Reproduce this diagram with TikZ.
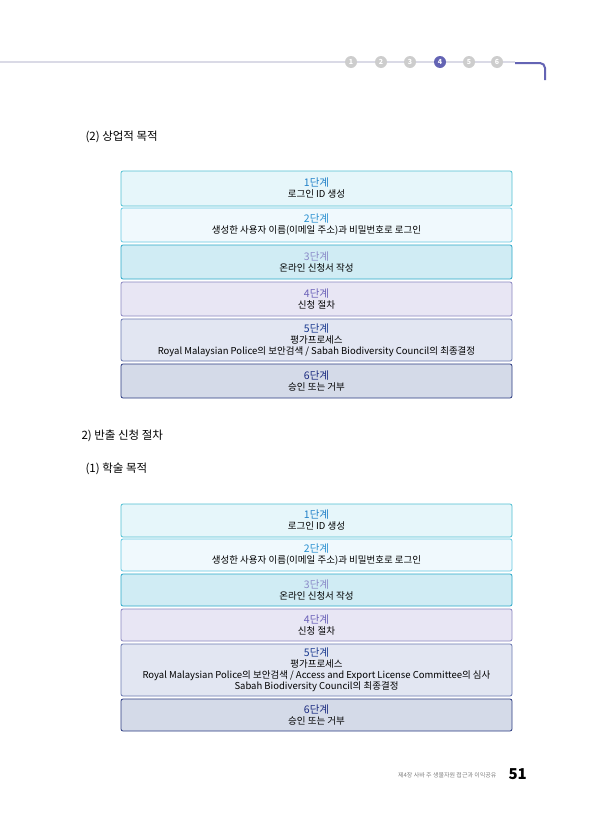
\documentclass[tikz,border=0pt]{standalone}
\usepackage{fontspec}
\setmainfont{Noto Sans CJK KR}
\usetikzlibrary{positioning}
\definecolor{lline}{RGB}{218,218,230}
\definecolor{dotgrey}{RGB}{205,205,205}
\definecolor{navy}{RGB}{100,100,180}
\definecolor{bdA}{RGB}{80,192,210}\definecolor{fA}{RGB}{230,246,250}\definecolor{tA}{RGB}{32,128,200}
\definecolor{bdB}{RGB}{100,200,225}\definecolor{fB}{RGB}{240,249,253}\definecolor{tB}{RGB}{42,144,208}
\definecolor{bdC}{RGB}{42,168,200}\definecolor{fC}{RGB}{208,236,244}\definecolor{tC}{RGB}{138,138,200}
\definecolor{bdD}{RGB}{138,134,192}\definecolor{fD}{RGB}{232,230,244}\definecolor{tD}{RGB}{106,96,184}
\definecolor{bdE}{RGB}{106,120,176}\definecolor{fE}{RGB}{226,230,242}\definecolor{tE}{RGB}{26,58,144}
\definecolor{bdF}{RGB}{42,58,128}\definecolor{fF}{RGB}{212,218,232}\definecolor{tF}{RGB}{26,42,128}
\newcommand{\stg}[2]{{\color{#1}\fontsize{10.5}{12}\selectfont #2}}

\begin{document}
\begin{tikzpicture}[x=1pt,y=-1pt,font=\fontsize{9.5}{11}\selectfont]
  \tikzset{stage/.style={draw=bd#1,fill=f#1,rounded corners=2pt,line width=0.8pt,
      minimum width=391pt,align=center,inner sep=1pt},
    title/.style={font=\fontsize{11.5}{13}\selectfont,anchor=west},
    dot/.style={circle,fill=dotgrey,text=white,inner sep=0pt,minimum size=12pt,
      font=\fontsize{7}{7}\selectfont\bfseries}}
  \useasboundingbox (0,0) rectangle (605,830);
  \fill[white] (0,0) rectangle (605,830);

  % header
  \draw[lline,line width=1.2pt] (0,62) -- (515,62);
  \foreach \i/\x in {1/351,2/381,3/410,5/469,6/497}
    \node[dot] (d\i) at (\x,62) {\i};
  \node[dot,fill=navy] (d4) at (440,62) {4};
  \draw[navy,line width=2pt,rounded corners=5pt] (515,63) -- (545,63) -- (545,80);

  \node[title] (h1) at (82,137) {(2) 상업적 목적};
  \node[title] (h2) at (78,436) {2) 반출 신청 절차};
  \node[title] (h3) at (82,469) {(1) 학술 목적};

  % commercial
  \node[stage=A,minimum height=35pt] (a1) at (316.5,188.5) {\stg{tA}{1단계}\\로그인 ID 생성};
  \node[stage=B,minimum height=34pt] (a2) at (316.5,225) {\stg{tB}{2단계}\\생성한 사용자 이름(이메일 주소)과 비밀번호로 로그인};
  \node[stage=C,minimum height=34pt] (a3) at (316.5,262) {\stg{tC}{3단계}\\온라인 신청서 작성};
  \node[stage=D,minimum height=34pt] (a4) at (316.5,299) {\stg{tD}{4단계}\\신청 절차};
  \node[stage=E,minimum height=42pt] (a5) at (316.5,340) {\stg{tE}{5단계}\\평가프로세스\\Royal Malaysian Police의 보안검색 / Sabah Biodiversity Council의 최종결정};
  \node[stage=F,minimum height=34pt] (a6) at (316.5,381) {\stg{tF}{6단계}\\승인 또는 거부};

  % academic
  \node[stage=A,minimum height=33pt] (b1) at (316.5,520.5) {\stg{tA}{1단계}\\로그인 ID 생성};
  \node[stage=B,minimum height=32pt] (b2) at (316.5,555) {\stg{tB}{2단계}\\생성한 사용자 이름(이메일 주소)과 비밀번호로 로그인};
  \node[stage=C,minimum height=32pt] (b3) at (316.5,590) {\stg{tC}{3단계}\\온라인 신청서 작성};
  \node[stage=D,minimum height=32pt] (b4) at (316.5,625) {\stg{tD}{4단계}\\신청 절차};
  \node[stage=E,minimum height=52pt] (b5) at (316.5,670) {\stg{tE}{5단계}\\평가프로세스\\Royal Malaysian Police의 보안검색 / Access and Export License Committee의 심사\\Sabah Biodiversity Council의 최종결정};
  \node[stage=F,minimum height=32pt] (b6) at (316.5,715) {\stg{tF}{6단계}\\승인 또는 거부};

  % footer
  \node[anchor=east,text=gray,font=\fontsize{6}{7}\selectfont] (ft) at (500,775) {제4장 사바 주 생물자원 접근과 이익공유};
  \node[anchor=west,font=\fontsize{15}{15}\selectfont\bfseries] (pg) at (505,774) {51};
\end{tikzpicture}
\end{document}
